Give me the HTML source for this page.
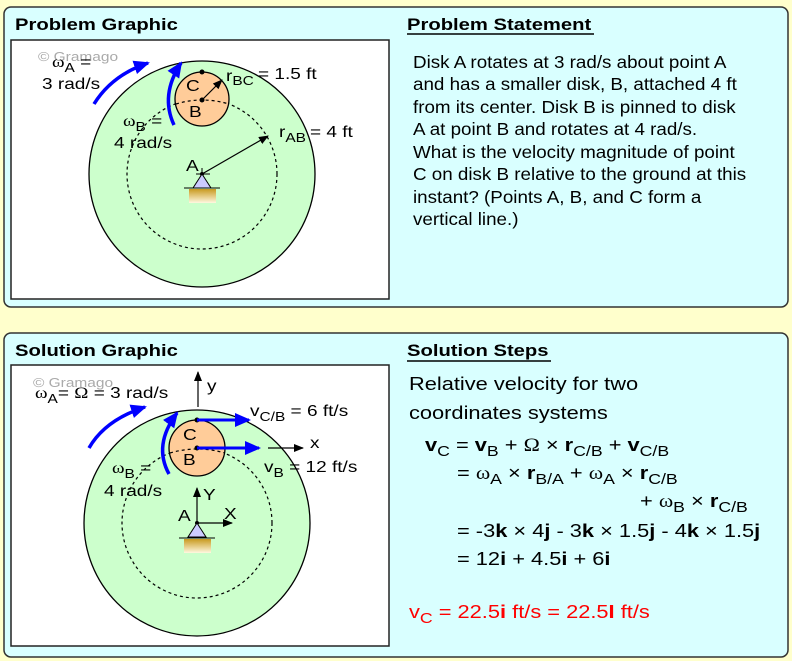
<!DOCTYPE html>
<html><head><meta charset="utf-8"><style>
html,body{margin:0;padding:0;background:#ffffcc;}
svg{display:block;font-family:"Liberation Sans",sans-serif;}
.w{font-family:"Liberation Serif",serif;}
</style></head><body>
<svg width="792" height="661" viewBox="0 0 792 661" xmlns="http://www.w3.org/2000/svg">
<defs>
<marker id="ak" markerWidth="10" markerHeight="8" refX="9" refY="4" orient="auto" markerUnits="userSpaceOnUse"><path d="M0,0 L10,4 L0,8 z" fill="#000"/></marker>
<marker id="ab" markerWidth="16" markerHeight="14" refX="14" refY="7" orient="auto" markerUnits="userSpaceOnUse"><path d="M0,0 L16,7 L0,14 z" fill="#0000ff"/></marker>
<linearGradient id="gnd" x1="0" y1="0" x2="0" y2="1"><stop offset="0" stop-color="#c89a20"/><stop offset="1" stop-color="#fff8e0"/></linearGradient>
</defs>
<rect width="792" height="661" fill="#ffffcc"/>
<rect x="4" y="7" width="784" height="300" rx="7" fill="#d9ffff" stroke="#333" stroke-width="1.5"/>
<rect x="4" y="333" width="784" height="324" rx="7" fill="#d9ffff" stroke="#333" stroke-width="1.5"/>

<!-- Top panel -->
<text transform="translate(15,30) scale(1.19,1)" font-size="17" font-weight="bold">Problem Graphic</text>
<text transform="translate(407,30) scale(1.19,1)" font-size="17" font-weight="bold">Problem Statement</text>
<line x1="407" y1="34" x2="594" y2="34" stroke="#000" stroke-width="1.5"/>
<rect x="11" y="40" width="378" height="259" fill="#fff" stroke="#222" stroke-width="1.5"/>
<g font-size="18">
<text transform="translate(413,68) scale(1.045,1)">Disk A rotates at 3 rad/s about point A</text>
<text transform="translate(413,90) scale(1.045,1)">and has a smaller disk, B, attached 4 ft</text>
<text transform="translate(413,113) scale(1.045,1)">from its center. Disk B is pinned to disk</text>
<text transform="translate(413,135) scale(1.045,1)">A at point B and rotates at 4 rad/s.</text>
<text transform="translate(413,158) scale(1.045,1)">What is the velocity magnitude of point</text>
<text transform="translate(413,180) scale(1.045,1)">C on disk B relative to the ground at this</text>
<text transform="translate(413,203) scale(1.045,1)">instant? (Points A, B, and C form a</text>
<text transform="translate(413,225) scale(1.045,1)">vertical line.)</text>
</g>
<circle cx="202" cy="174" r="113" fill="#ccffcc" stroke="#000" stroke-width="1.3"/>
<circle cx="202" cy="174" r="75" fill="none" stroke="#000" stroke-width="1.2" stroke-dasharray="3,3"/>
<circle cx="202" cy="99" r="27" fill="#ffcc99" stroke="#000" stroke-width="1.3"/>
<path d="M176,104 Q202,96 229,104" fill="none" stroke="#000" stroke-width="1.2" stroke-dasharray="3,3"/>
<circle cx="202" cy="72" r="2.5"/>
<circle cx="202" cy="100" r="2.5"/>
<line x1="202" y1="100" x2="222" y2="80" stroke="#000" stroke-width="1.2" marker-end="url(#ak)"/>
<line x1="202" y1="174" x2="268" y2="136" stroke="#000" stroke-width="1.2" marker-end="url(#ak)"/>
<text transform="translate(38,61) scale(1.19,1)" font-size="13" fill="#aaa">© Gramago</text>
<g font-size="16">
<text transform="translate(52,67) scale(1.19,1)"><tspan class="w">ω</tspan><tspan font-size="13" dy="5">A</tspan><tspan dy="-5"> =</tspan></text>
<text transform="translate(42,89) scale(1.19,1)">3 rad/s</text>
<text transform="translate(123,126) scale(1.19,1)"><tspan class="w">ω</tspan><tspan font-size="13" dy="5">B</tspan><tspan dy="-5"> =</tspan></text>
<text transform="translate(114,148) scale(1.19,1)">4 rad/s</text>
<text transform="translate(186,91) scale(1.19,1)">C</text>
<text transform="translate(189,117) scale(1.19,1)">B</text>
<text transform="translate(226,81) scale(1.19,1)">r<tspan font-size="13" dy="4">BC</tspan></text>
<text transform="translate(258,79) scale(1.19,1)">= 1.5 ft</text>
<text transform="translate(279,137) scale(1.19,1)">r<tspan font-size="13" dy="5">AB</tspan></text>
<text transform="translate(310,137) scale(1.19,1)">= 4 ft</text>
<text transform="translate(186,171) scale(1.19,1)">A</text>
</g>
<path d="M94,104 Q112,75 148,63" fill="none" stroke="#0000ff" stroke-width="3.5" marker-end="url(#ab)"/>
<path d="M174,125 Q160,95 181,63" fill="none" stroke="#0000ff" stroke-width="3.5" marker-end="url(#ab)"/>
<line x1="196" y1="174" x2="210" y2="174" stroke="#000"/>
<line x1="202" y1="168" x2="202" y2="174" stroke="#000"/>
<circle cx="202" cy="174" r="2"/>
<path d="M202,174 L193,188 L211,188 z" fill="#ccccff" stroke="#000"/>
<line x1="184" y1="188" x2="220" y2="188" stroke="#000"/>
<rect x="189" y="189" width="27" height="14" fill="url(#gnd)"/>

<!-- Bottom panel -->
<text transform="translate(15,356) scale(1.19,1)" font-size="17" font-weight="bold">Solution Graphic</text>
<text transform="translate(407,356) scale(1.19,1)" font-size="17" font-weight="bold">Solution Steps</text>
<line x1="407" y1="361" x2="551" y2="361" stroke="#000" stroke-width="1.5"/>
<rect x="11" y="365" width="378" height="281" fill="#fff" stroke="#222" stroke-width="1.5"/>
<circle cx="197" cy="523" r="113" fill="#ccffcc" stroke="#000" stroke-width="1.3"/>
<circle cx="197" cy="523" r="75" fill="none" stroke="#000" stroke-width="1.2" stroke-dasharray="3,3"/>
<circle cx="197" cy="448" r="28" fill="#ffcc99" stroke="#000" stroke-width="1.3"/>
<path d="M170,453 Q197,445 225,453" fill="none" stroke="#000" stroke-width="1.2" stroke-dasharray="3,3"/>
<text transform="translate(33,387) scale(1.19,1)" font-size="13" fill="#aaa">© Gramago</text>
<g font-size="16">
<text transform="translate(35,398) scale(1.19,1)"><tspan class="w">ω</tspan><tspan font-size="13" dy="5">A</tspan><tspan dy="-5">= </tspan><tspan class="w">Ω</tspan> = 3 rad/s</text>
<text transform="translate(207,391) scale(1.19,1)">y</text>
<text transform="translate(310,448) scale(1.19,1)">x</text>
<text transform="translate(250,416) scale(1.19,1)">v<tspan font-size="13" dy="5">C/B</tspan><tspan dy="-5"> = 6 ft/s</tspan></text>
<text transform="translate(264,472) scale(1.19,1)">v<tspan font-size="13" dy="5">B</tspan><tspan dy="-5"> = 12 ft/s</tspan></text>
<text transform="translate(183,440) scale(1.19,1)">C</text>
<text transform="translate(183,465) scale(1.19,1)">B</text>
<text transform="translate(112,473) scale(1.19,1)"><tspan class="w">ω</tspan><tspan font-size="13" dy="5">B</tspan><tspan dy="-5"> =</tspan></text>
<text transform="translate(104,496) scale(1.19,1)">4 rad/s</text>
<text transform="translate(203,500) scale(1.19,1)">Y</text>
<text transform="translate(224,519) scale(1.19,1)">X</text>
<text transform="translate(178,521) scale(1.19,1)">A</text>
</g>
<line x1="198" y1="407" x2="198" y2="372" stroke="#000" stroke-width="1.2" marker-end="url(#ak)"/>
<line x1="268" y1="448" x2="303" y2="448" stroke="#000" stroke-width="1.2" marker-end="url(#ak)"/>
<path d="M89,448 Q105,420 145,407" fill="none" stroke="#0000ff" stroke-width="3.5" marker-end="url(#ab)"/>
<path d="M169,474 Q153,445 177,413" fill="none" stroke="#0000ff" stroke-width="3.5" marker-end="url(#ab)"/>
<circle cx="197" cy="420" r="2.5"/>
<circle cx="197" cy="448" r="2.5"/>
<line x1="197" y1="420" x2="249" y2="420" stroke="#0000ff" stroke-width="3" marker-end="url(#ab)"/>
<line x1="197" y1="448" x2="259" y2="448" stroke="#0000ff" stroke-width="3" marker-end="url(#ab)"/>
<line x1="197" y1="523" x2="197" y2="488" stroke="#000" stroke-width="1.2" marker-end="url(#ak)"/>
<line x1="197" y1="523" x2="232" y2="523" stroke="#000" stroke-width="1.2" marker-end="url(#ak)"/>
<circle cx="197" cy="523" r="2"/>
<path d="M197,523 L188,537 L206,537 z" fill="#ccccff" stroke="#000"/>
<line x1="179" y1="538" x2="215" y2="538" stroke="#000"/>
<rect x="184" y="539" width="27" height="14" fill="url(#gnd)"/>

<g font-size="18.5">
<text transform="translate(409,390) scale(1.18,1)">Relative velocity for two</text>
<text transform="translate(409,419) scale(1.18,1)">coordinates systems</text>
<text transform="translate(425,451) scale(1.18,1)"><tspan font-weight="bold">v</tspan><tspan font-size="15" dy="5">C</tspan><tspan dy="-5"> = </tspan><tspan font-weight="bold">v</tspan><tspan font-size="15" dy="5">B</tspan><tspan dy="-5"> + </tspan><tspan class="w">Ω</tspan> × <tspan font-weight="bold">r</tspan><tspan font-size="15" dy="5">C/B</tspan><tspan dy="-5"> + </tspan><tspan font-weight="bold">v</tspan><tspan font-size="15" dy="5">C/B</tspan></text>
<text transform="translate(457,479) scale(1.18,1)">= <tspan class="w">ω</tspan><tspan font-size="15" dy="5">A</tspan><tspan dy="-5"> × </tspan><tspan font-weight="bold">r</tspan><tspan font-size="15" dy="5">B/A</tspan><tspan dy="-5"> + </tspan><tspan class="w">ω</tspan><tspan font-size="15" dy="5">A</tspan><tspan dy="-5"> × </tspan><tspan font-weight="bold">r</tspan><tspan font-size="15" dy="5">C/B</tspan></text>
<text transform="translate(640,507) scale(1.18,1)">+ <tspan class="w">ω</tspan><tspan font-size="15" dy="5">B</tspan><tspan dy="-5"> × </tspan><tspan font-weight="bold">r</tspan><tspan font-size="15" dy="5">C/B</tspan></text>
<text transform="translate(457,537) scale(1.18,1)">= -3<tspan font-weight="bold">k</tspan> × 4<tspan font-weight="bold">j</tspan> - 3<tspan font-weight="bold">k</tspan> × 1.5<tspan font-weight="bold">j</tspan> - 4<tspan font-weight="bold">k</tspan> × 1.5<tspan font-weight="bold">j</tspan></text>
<text transform="translate(457,565) scale(1.18,1)">= 12<tspan font-weight="bold">i</tspan> + 4.5<tspan font-weight="bold">i</tspan> + 6<tspan font-weight="bold">i</tspan></text>
<text transform="translate(409,618) scale(1.18,1)" fill="#ff0000">v<tspan font-size="15" dy="5">C</tspan><tspan dy="-5"> = 22.5</tspan><tspan font-weight="bold">i</tspan> ft/s = 22.5<tspan font-weight="bold">I</tspan> ft/s</text>
</g>
</svg>
</body></html>
